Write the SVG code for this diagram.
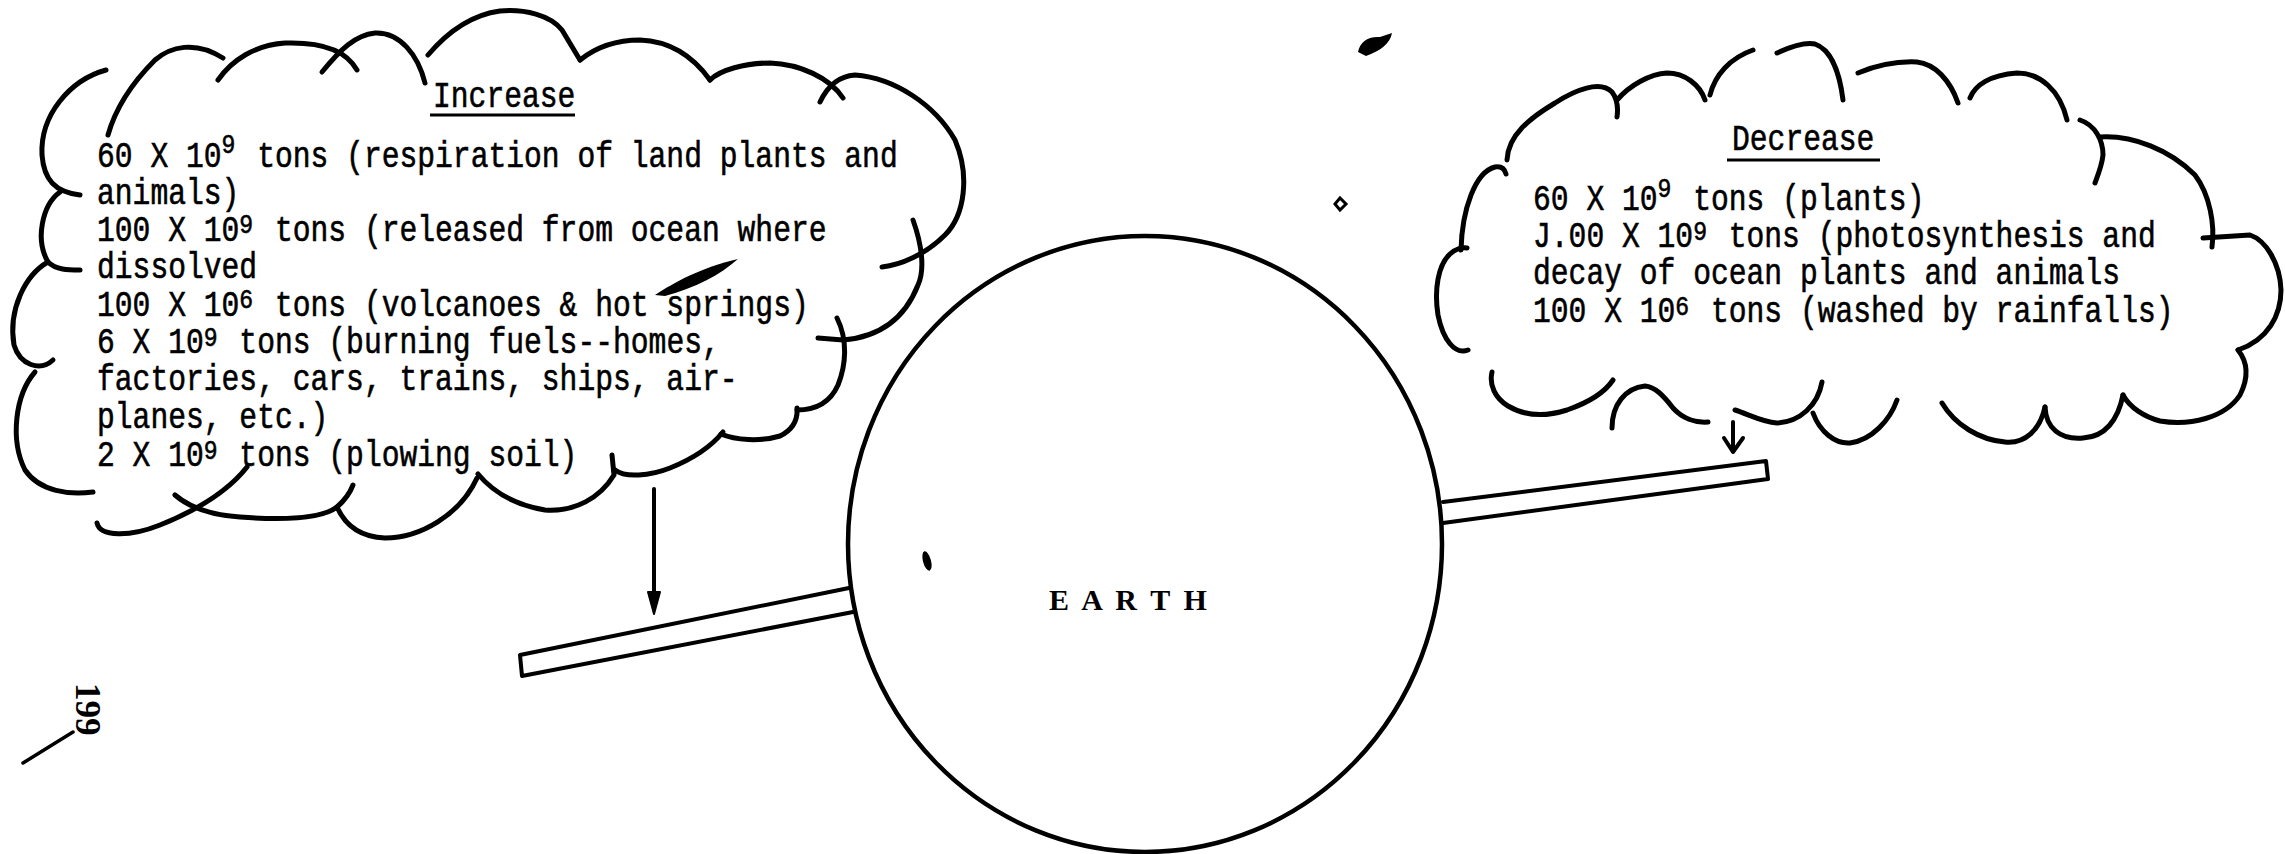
<svg xmlns="http://www.w3.org/2000/svg" width="2285" height="854" viewBox="0 0 2285 854">
<style>
.cl{fill:none;stroke:#000;stroke-width:5;stroke-linecap:round;stroke-linejoin:round}
.ln{fill:none;stroke:#000;stroke-width:4;stroke-linecap:round;stroke-linejoin:round}
.t{font-family:"Liberation Mono","DejaVu Sans Mono",monospace;font-size:36px;fill:#000;stroke:#000;stroke-width:0.6;white-space:pre}
.s{font-size:28px}
.e{font-family:"Liberation Serif","DejaVu Serif",serif;font-weight:bold;font-size:30px;fill:#000;white-space:pre}
.ul{stroke:#000;stroke-width:3}
</style>
<rect width="2285" height="854" fill="#fff"/>
<g id="connectors">
<path class="ln" d="M849,588 L520,655 L522,676 L853,612"/>
<path class="ln" d="M1443,502 L1766,461 L1768,479 L1443,523"/>
<line class="ln" x1="654" y1="489" x2="654" y2="596"/>
<path d="M648,592 L660,592 L654,614 Z" fill="#000" stroke="#000" stroke-width="2" stroke-linejoin="round"/>
<path class="ln" d="M1733,422 L1733,451 M1724,438 L1733,452 L1743,438"/>
</g>
<g id="earth">
<ellipse cx="1145" cy="544" rx="297" ry="308" fill="none" stroke="#000" stroke-width="4.5"/>
<text class="e" x="1049" y="610" style="letter-spacing:3.2px">E A R T H</text>
</g>
<g id="increase-cloud">
<path class="cl" d="M106,70 C70,80 40,115 42,155 C44,180 55,192 80,195"/>
<path class="cl" d="M60,192 C42,205 35,240 48,262 C56,270 68,270 80,270"/>
<path class="cl" d="M48,262 C25,275 8,310 14,345 C20,365 40,372 53,360"/>
<path class="cl" d="M35,372 C15,395 10,440 25,470 C40,492 70,495 93,492"/>
<path class="cl" d="M97,523 C100,537 130,537 160,525 C190,513 225,495 247,467"/>
<path class="cl" d="M175,495 C190,508 210,515 240,517 C280,520 320,520 337,507 C345,500 350,493 353,485"/>
<path class="cl" d="M337,507 C345,525 360,537 385,538 C420,538 460,515 477,478"/>
<path class="cl" d="M478,474 C493,492 515,505 545,510 C575,512 600,498 614,475 L612,455"/>
<path class="cl" d="M615,470 C625,478 650,476 670,468 C690,460 710,448 723,432"/>
<path class="cl" d="M721,434 C735,440 760,442 780,436 C792,430 798,420 797,408"/>
<path class="cl" d="M797,410 C815,410 830,403 838,385 C846,365 848,340 837,318"/>
<path class="cl" d="M913,220 C922,245 925,270 918,285 C905,318 880,337 843,340 L818,338"/>
<path class="cl" d="M820,102 C828,85 840,76 855,75 C895,78 935,105 955,140 C970,175 965,215 945,235 C925,255 900,265 882,267"/>
<path class="cl" d="M710,80 C720,70 745,63 770,63 C800,64 830,78 843,98"/>
<path class="cl" d="M580,60 C595,48 615,40 640,40 C665,41 690,52 710,80"/>
<path class="cl" d="M428,55 C445,35 470,15 500,11 C525,9 550,15 562,30 L580,60"/>
<path class="cl" d="M322,72 C340,50 355,35 375,33 C400,32 418,55 425,83"/>
<path class="cl" d="M218,80 C232,60 255,45 285,43 C315,42 345,48 357,70"/>
<path class="cl" d="M108,135 C115,110 130,85 155,60 C170,47 195,40 223,58"/>
<text class="t" transform="translate(433,107) scale(0.824,1)">Increase</text>
<line class="ul" x1="430" y1="115" x2="575" y2="115"/>
<text class="t" transform="translate(97,167) scale(0.824,1)">60 X 10<tspan class="s" dy="-14">9</tspan><tspan dy="14" dx="4.8"> tons (respiration of land plants and</tspan></text>
<text class="t" transform="translate(97,204) scale(0.824,1)">animals)</text>
<text class="t" transform="translate(97,241) scale(0.824,1)">100 X 10<tspan class="s" dy="-8">9</tspan><tspan dy="8" dx="4.8"> tons (released from ocean where</tspan></text>
<text class="t" transform="translate(97,278) scale(0.824,1)">dissolved</text>
<text class="t" transform="translate(97,316) scale(0.824,1)">100 X 10<tspan class="s" dy="-8">6</tspan><tspan dy="8" dx="4.8"> tons (volcanoes &amp; hot springs)</tspan></text>
<text class="t" transform="translate(97,353) scale(0.824,1)">6 X 10<tspan class="s" dy="-7">9</tspan><tspan dy="7" dx="4.8"> tons (burning fuels--homes,</tspan></text>
<text class="t" transform="translate(97,390) scale(0.824,1)">factories, cars, trains, ships, air-</text>
<text class="t" transform="translate(97,428) scale(0.824,1)">planes, etc.)</text>
<text class="t" transform="translate(97,466) scale(0.824,1)">2 X 10<tspan class="s" dy="-7">9</tspan><tspan dy="7" dx="4.8"> tons (plowing soil)</tspan></text>
</g>
<g id="decrease-cloud">
<path class="cl" d="M1468,350 C1455,355 1443,340 1438,315 C1434,290 1438,265 1450,254 C1455,249 1462,247 1467,248"/>
<path class="cl" d="M1461,250 C1462,210 1475,172 1495,167 C1502,166 1505,170 1506,174"/>
<path class="cl" d="M1507,160 C1508,135 1530,118 1555,103 C1575,90 1600,80 1612,92 C1618,100 1618,110 1617,117"/>
<path class="cl" d="M1617,100 C1630,85 1650,74 1667,73 C1685,73 1700,85 1705,100"/>
<path class="cl" d="M1710,95 C1715,75 1730,58 1753,50"/>
<path class="cl" d="M1777,53 C1790,47 1805,42 1815,44 C1832,50 1840,75 1843,100"/>
<path class="cl" d="M1858,73 C1875,66 1895,61 1917,62 C1935,64 1950,80 1958,103"/>
<path class="cl" d="M1970,98 C1975,85 1990,75 2017,73 C2040,73 2060,90 2067,120"/>
<path class="cl" d="M2080,120 C2095,125 2103,140 2103,155 C2102,165 2098,175 2095,183"/>
<path class="cl" d="M2100,137 C2133,135 2170,150 2195,175 C2210,195 2215,225 2212,247"/>
<path class="cl" d="M2203,238 L2250,235 C2265,240 2280,262 2281,290 C2281,315 2268,340 2238,350"/>
<path class="cl" d="M2238,350 C2246,360 2250,375 2240,395 C2225,418 2190,426 2160,421 C2145,417 2130,408 2123,395"/>
<path class="cl" d="M2123,395 C2118,420 2105,437 2083,438 C2060,440 2046,428 2045,407"/>
<path class="cl" d="M2045,407 C2040,430 2025,444 2005,442 C1980,440 1955,425 1942,403"/>
<path class="cl" d="M1897,400 C1890,420 1872,440 1850,443 C1835,444 1820,432 1813,413"/>
<path class="cl" d="M1822,382 C1818,405 1800,422 1777,423 C1762,422 1748,414 1735,410"/>
<path class="cl" d="M1708,422 C1695,423 1682,418 1673,408 C1663,395 1655,387 1645,386 C1625,388 1612,405 1612,428"/>
<path class="cl" d="M1613,380 C1605,392 1590,402 1567,410 C1545,417 1525,416 1508,406 C1495,398 1489,385 1492,372"/>
<text class="t" transform="translate(1732,150) scale(0.824,1)">Decrease</text>
<line class="ul" x1="1727" y1="160" x2="1880" y2="160"/>
<text class="t" transform="translate(1533,210) scale(0.824,1)">60 X 10<tspan class="s" dy="-13">9</tspan><tspan dy="13" dx="4.8"> tons (plants)</tspan></text>
<text class="t" transform="translate(1533,247) scale(0.824,1)">J.00 X 10<tspan class="s" dy="-7">9</tspan><tspan dy="7" dx="4.8"> tons (photosynthesis and</tspan></text>
<text class="t" transform="translate(1533,284) scale(0.824,1)">decay of ocean plants and animals</text>
<text class="t" transform="translate(1533,322) scale(0.824,1)">100 X 10<tspan class="s" dy="-7">6</tspan><tspan dy="7" dx="4.8"> tons (washed by rainfalls)</tspan></text>
</g>
<g id="page-number">
<text class="e" transform="translate(76,683) rotate(90)" style="font-size:35px">199</text>
<path d="M23,763 L73,732" stroke="#000" stroke-width="3.5" stroke-linecap="round"/>
</g>
<g id="marks" fill="#000">
<ellipse cx="927" cy="561" rx="4" ry="10" transform="rotate(-15 927 561)"/>
<path d="M1358,52 C1360,42 1368,36 1380,37 L1392,33 C1390,44 1380,51 1366,56 Z"/>
<path d="M1335,204 L1340,198 L1346,204 L1340,210 Z" fill="none" stroke="#000" stroke-width="3"/>
<path d="M655,295 C675,282 700,268 738,259 C720,275 695,288 665,296 Z"/>
</g>
</svg>
